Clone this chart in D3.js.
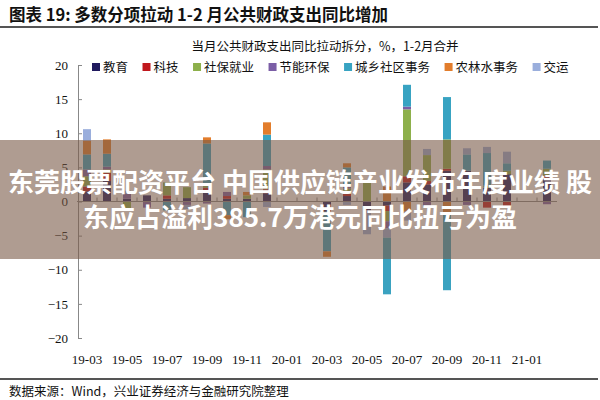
<!DOCTYPE html>
<html><head><meta charset="utf-8">
<script src="https://cdn.jsdelivr.net/npm/d3@7/dist/d3.min.js"></script>
<style>
html,body{margin:0;padding:0;background:#fff;}
svg{display:block;}
</style></head>
<body>
<svg id="c" width="600" height="400"></svg>
<script>
// ---- data ----
const months = ["19-03","19-04","19-05","19-06","19-07","19-08","19-09","19-10","19-11","19-12",
  "20-01","20-02","20-03","20-04","20-05","20-06","20-07","20-08","20-09","20-10","20-11","20-12","21-01","21-02"];
const tickLabels = ["19-03","19-05","19-07","19-09","19-11","20-01","20-03","20-05","20-07","20-09","20-11","21-01"];
const seriesNames = ["教育","科技","社保就业","节能环保","城乡社区事务","农林水事务","交运","其他"];
const legendNames = ["教育","科技","社保就业","节能环保","城乡社区事务","农林水事务","交运"];
const edu   = [1.5,3.0,0.4,0.9,0.4,0.5,1.5,0.4,0.4,1.2,null,null,-1.5,0.8,-1.3,-0.6,2.8,2.5,4.5,4.5,2.0,4.0,null,3.5];
const tech  = [0.7,1.2,0,0,0.5,0,0.5,0.4,0,0.6,null,null,0,0.5,0,-0.8,0.9,0.5,0.3,0,-0.9,-0.8,null,0.3];
const social= [1.5,0.5,-1.3,0,1.9,1.6,0.3,0,0.5,2.9,null,null,0,0.6,3.0,-1.5,9.8,3.8,4.3,0,0.3,0.5,null,1.0];
const energy= [1.0,0.4,0.7,-0.9,0,-0.5,-0.3,0.6,0,0.5,null,null,0,0.3,0,-1.0,0.4,-0.7,0,-0.5,0,0,null,-0.4];
const urban = [2.2,1.9,0,0,-1.3,0,6.2,-2.0,-2.3,4.6,null,null,-5.8,2.8,0,0,3.2,0,6.2,2.4,4.8,1.1,null,1.2];
const agri  = [2.0,2.1,0,0,0,0,0.9,-0.6,0.5,1.8,null,null,-0.8,0.6,0,2.2,-1.5,0,-1.9,0,0,0,null,0];
const trans = [1.7,0,0.5,0,0,-0.6,0,0,0,-0.8,null,null,0,-0.5,-3.5,-1.4,-1.3,0.9,0,0.9,0.9,1.7,null,0];
const other = [0,0,0,0,0,0,0,0,0,0,null,null,0,0,0,-8.3,0,0,-11.1,0,0,0,null,0];
const yTicks = [20,15,10,5,0,-5,-10,-15,-20];
const colors = ["#201a5e","#c0181d","#8db04b","#7b5ea6","#38a3c2","#e27d2c","#9aaedc","#3aa2c0"];

const svg = d3.select("#c");
const serifF = "'Liberation Serif','Times New Roman','Noto Sans CJK SC',serif";
const cjkF = "'Noto Sans CJK SC','Liberation Serif',sans-serif";

// titles
svg.append("text").attr("x",9).attr("y",21).attr("font-family",cjkF).attr("font-weight","bold")
  .attr("font-size",16.5).attr("fill","#111").text("图表 19:  多数分项拉动 1-2 月公共财政支出同比增加");
svg.append("line").attr("x1",0).attr("x2",598).attr("y1",27).attr("y2",27).attr("stroke","#555").attr("stroke-width",2);
svg.append("text").attr("x",325).attr("y",51).attr("text-anchor","middle").attr("font-family",cjkF)
  .attr("font-size",12.5).attr("fill","#111").text("当月公共财政支出同比拉动拆分，%，1-2月合并");

// scales
const xb = d3.scaleBand().domain(months).range([77,557]);
const y = d3.scaleLinear().domain([-20,20]).range([338,65]);

const table = months.map((m,i)=>{
  const o={month:m};
  [edu,tech,social,energy,urban,agri,trans,other].forEach((arr,k)=>o[seriesNames[k]]=arr[i]==null?0:arr[i]);
  return o;
});
const stack = d3.stack().keys(seriesNames).offset(d3.stackOffsetDiverging)(table);

const g = svg.append("g");
stack.forEach((layer,k)=>{
  g.selectAll(null).data(layer).join("rect")
    .attr("x",d=>xb(d.data.month)+xb.bandwidth()/2-4)
    .attr("width",8)
    .attr("y",d=>y(Math.max(d[0],d[1])))
    .attr("height",d=>Math.abs(y(d[0])-y(d[1])))
    .attr("fill",colors[k]);
});

// y axis
const yAxis = d3.axisLeft(y).tickValues(yTicks).tickSize(-4).tickPadding(10);
const ya = svg.append("g").attr("transform","translate(78,0)").call(yAxis);
ya.select(".domain").attr("stroke","#888");
ya.selectAll(".tick line").attr("stroke","#888");
ya.selectAll(".tick text").attr("font-family",serifF).attr("font-size",13).attr("fill","#111");

// x axis at zero
const xa = svg.append("g").attr("transform",`translate(0,${y(0)})`);
xa.append("line").attr("x1",77).attr("x2",557).attr("stroke","#888");
xa.selectAll(null).data(months.slice(1)).join("line")
  .attr("x1",d=>xb(d)).attr("x2",d=>xb(d)).attr("y1",0).attr("y2",-4).attr("stroke","#888");
svg.selectAll(null).data(tickLabels).join("text")
  .attr("x",d=>xb(d)+xb.bandwidth()/2).attr("y",364).attr("text-anchor","middle")
  .attr("font-family",serifF).attr("font-size",13).attr("fill","#111").text(d=>d);

// legend
let lx = 92;
legendNames.forEach((n,k)=>{
  const lg = svg.append("g");
  lg.append("rect").attr("x",lx).attr("y",63).attr("width",8).attr("height",8).attr("fill",colors[k]);
  const t = lg.append("text").attr("x",lx+11).attr("y",72).attr("font-family",cjkF).attr("font-size",12.5)
    .attr("fill","#111").text(n);
  lx += 11 + t.node().getComputedTextLength() + 14.5;
});

// footer
svg.append("line").attr("x1",0).attr("x2",598).attr("y1",379).attr("y2",379).attr("stroke","#555").attr("stroke-width",2);
svg.append("text").attr("x",9).attr("y",396).attr("font-family",cjkF).attr("font-size",12.5).attr("fill","#111")
  .text("数据来源：Wind，兴业证券经济与金融研究院整理");

// overlay banner
svg.append("rect").attr("x",0).attr("y",140).attr("width",600).attr("height",119)
  .attr("fill","#7a5a48").attr("fill-opacity",0.6);
svg.append("text").attr("x",300).attr("y",192).attr("text-anchor","middle").attr("font-family",cjkF)
  .attr("font-weight","bold").attr("font-size",26).attr("fill","#fff")
  .text("东莞股票配资平台 中国供应链产业发布年度业绩 股");
svg.append("text").attr("x",300).attr("y",227).attr("text-anchor","middle").attr("font-family",cjkF)
  .attr("font-weight","bold").attr("font-size",26).attr("fill","#fff")
  .text("东应占溢利385.7万港元同比扭亏为盈");
</script>
</body></html>
